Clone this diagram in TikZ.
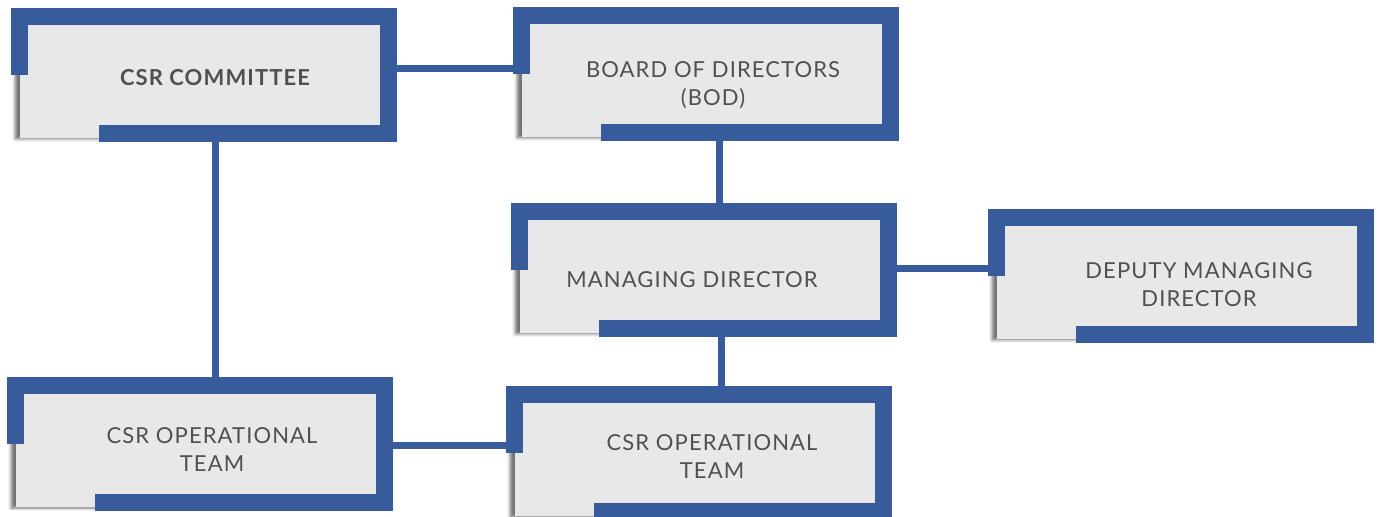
\documentclass[tikz,border=0pt]{standalone}
\usepackage{fontspec}
\setmainfont{Lato}[LetterSpace=5]
\usetikzlibrary{shadows.blur}
\definecolor{csrblue}{HTML}{385B9C}
\definecolor{panelgrey}{HTML}{E8E8E8}
\definecolor{textgrey}{HTML}{505050}

% open blue frame round a panel
\newcommand{\csrframe}[1]{%
  \draw[frame] ([shift={(-0.5,50)}]#1.north west) -- ([shift={(-0.5,-8.5)}]#1.north west)
    -- ([shift={(8.5,-8.5)}]#1.north east) -- ([shift={(8.5,-4.5)}]#1.south east)
    -- ([shift={(79,-4.5)}]#1.south west);}

\begin{document}
\begin{tikzpicture}[x=0.5pt,y=-0.5pt,
  panel/.style={rectangle,fill=panelgrey,minimum width=180pt,minimum height=56.5pt,inner sep=0pt,
    blur shadow={shadow xshift=-2.5pt,shadow yshift=-0.5pt,shadow blur radius=1.5pt,
      shadow blur extra rounding=0pt,shadow opacity=55}},
  txt/.style={text=textgrey,align=center,font=\fontsize{11}{14}\selectfont},
  txtbold/.style={txt,font=\fontsize{11}{14}\selectfont\bfseries},
  frame/.style={draw=csrblue,line width=8.5pt,line join=miter},
  link/.style={draw=csrblue,line width=3.5pt}]
\useasboundingbox (0,0) rectangle (1382,517);

% Paneles
\node[panel] (com) at (200,81.5) {};
\node[panel] (bod) at (702,80.5) {};
\node[panel] (md) at (700,276.5) {};
\node[panel] (dmd) at (1177,282.5) {};
\node[panel] (opl) at (196,450.5) {};
\node[panel] (opr) at (695,459.5) {};

% Textos
\node[txtbold] (comtext) at ([shift={(15,-3.5)}]com.center) {CSR COMMITTEE};
\node[txt] (bodtext) at ([shift={(11,4.5)}]bod.center) {BOARD OF DIRECTORS\\(BOD)};
\node[txt] (mdtext) at ([shift={(-8,3.5)}]md.center) {MANAGING DIRECTOR};
\node[txt] (dmdtext) at ([shift={(22,2)}]dmd.center) {DEPUTY MANAGING\\DIRECTOR};
\node[txt] (opltext) at ([shift={(16,-1)}]opl.center) {CSR OPERATIONAL\\TEAM};
\node[txt] (oprtext) at ([shift={(17,-3)}]opr.center) {CSR OPERATIONAL\\TEAM};

% Conexiones
\draw[link] (com.east) ++(0,-13) coordinate (c1) -- (c1 -| bod.west);
\draw[link] (com.south) ++(15,0) coordinate (c2) -- (c2 |- opl.north);
\draw[link] (bod.south) ++(17,0) coordinate (c3) -- (c3 |- md.north);
\draw[link] (md.east) ++(0,-8) coordinate (c4) -- (c4 -| dmd.west);
\draw[link] (md.south) ++(21,0) coordinate (c5) -- (c5 |- opr.north);
\draw[link] (opl.east) ++(0,-5) coordinate (c6) -- (c6 -| opr.west);

% Marcos
\csrframe{com}
\csrframe{bod}
\csrframe{md}
\csrframe{dmd}
\csrframe{opl}
\csrframe{opr}
\end{tikzpicture}
\end{document}
